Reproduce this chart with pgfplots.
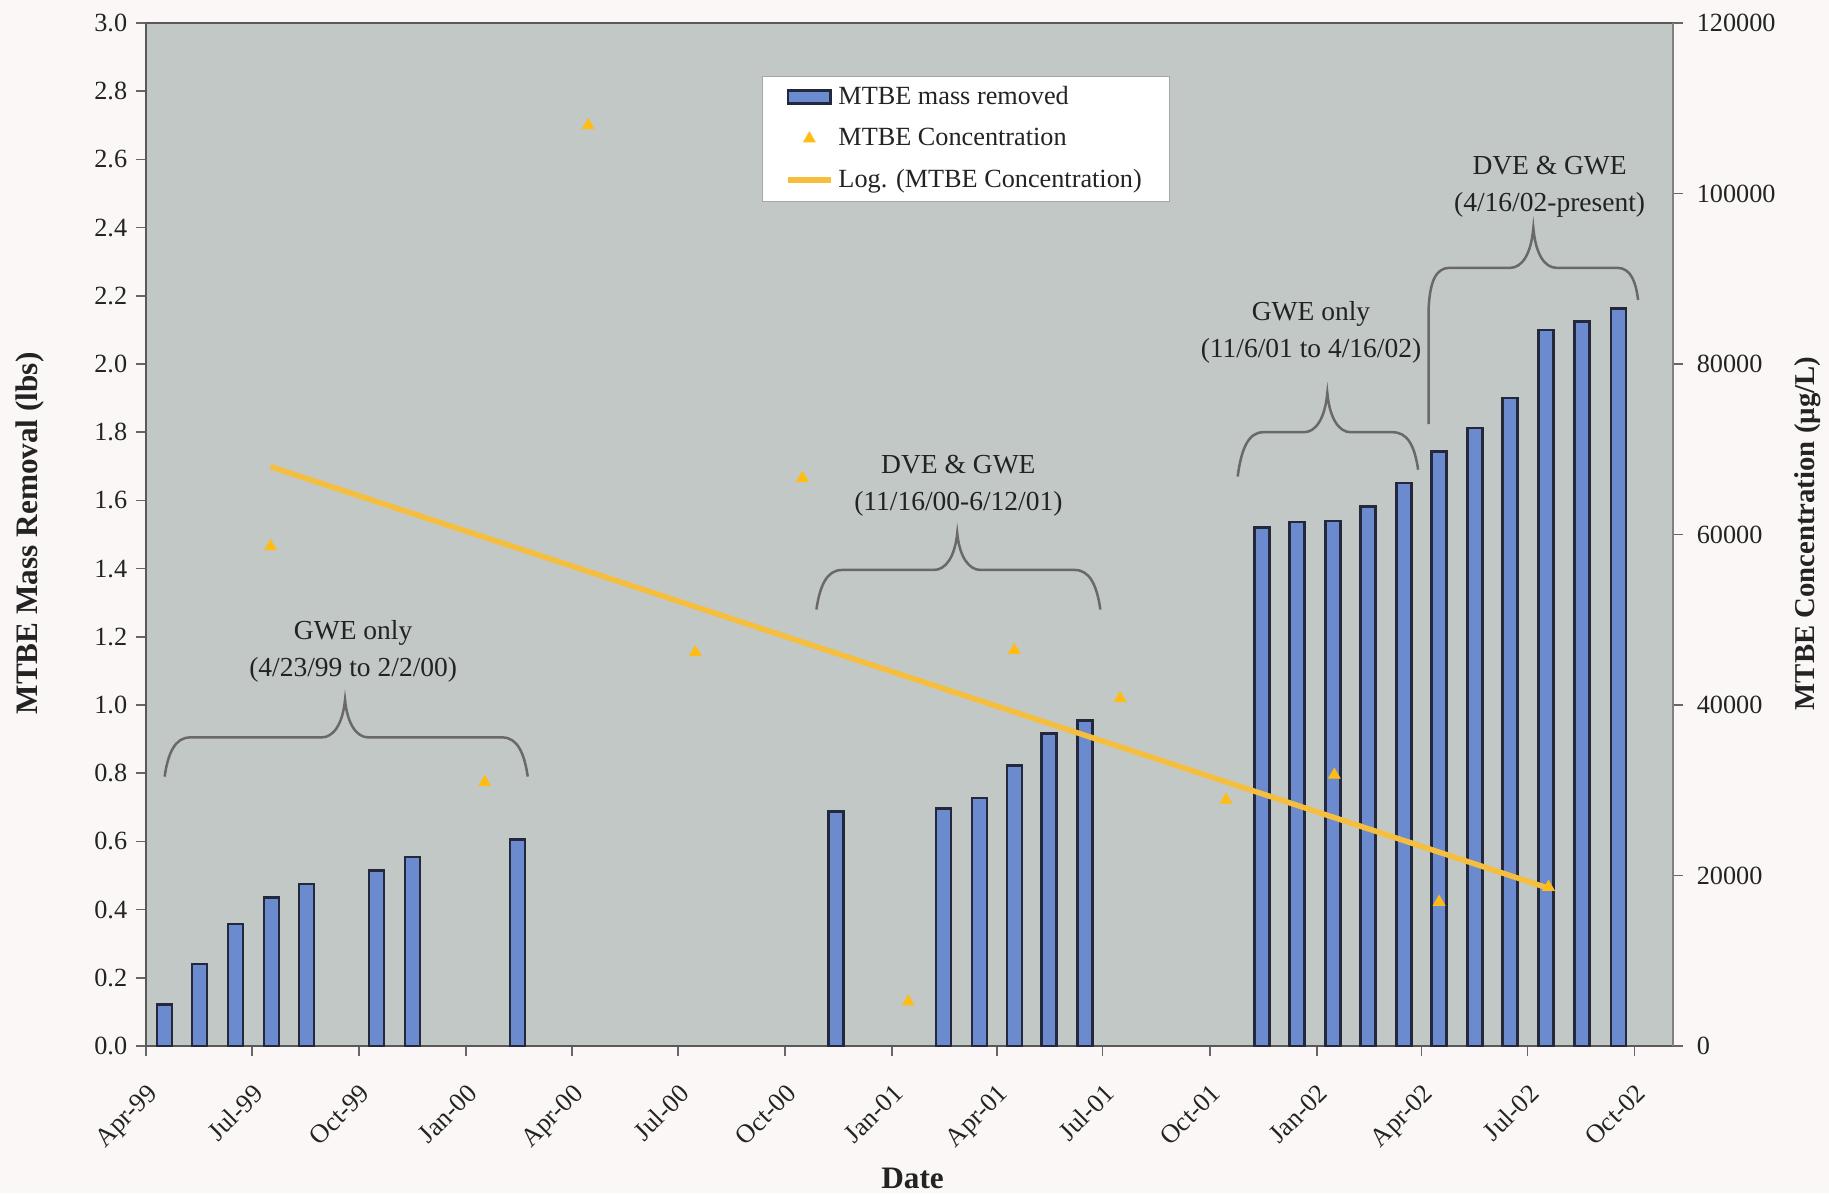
\documentclass[border=0pt]{standalone}
\usepackage{pgfplots}
\pgfplotsset{compat=1.18}
\usepackage{fontspec}
\setmainfont{Liberation Serif}
\definecolor{plotbg}{RGB}{194,200,198}
\definecolor{pagebg}{RGB}{251,247,247}
\definecolor{barfill}{RGB}{108,138,206}
\definecolor{baredge}{RGB}{35,40,60}
\definecolor{tri}{RGB}{255,188,20}
\definecolor{trend}{RGB}{245,190,60}
\definecolor{bracegray}{RGB}{105,105,105}
\definecolor{txt}{RGB}{35,35,35}
\begin{document}
\begin{tikzpicture}
\fill[pagebg] (-58.4pt,-58.8pt) rectangle (673.2pt,418.4pt);
\useasboundingbox (-58.4pt,-58.8pt) rectangle (673.2pt,418.4pt);
\begin{axis}[
  at={(0,0)}, anchor=south west,
  scale only axis, width=610.8pt, height=409.2pt,
  xmin=0, xmax=1312, ymin=0, ymax=3,
  axis background/.style={fill=plotbg},
  axis line style={draw=black!65, line width=0.8pt},
  xtick pos=left, ytick pos=left,
  tick align=outside, major tick length=4pt,
  tick style={draw=black!60, line width=0.6pt},
  xtick={0,91,183,275,366,457,549,641,731,822,914,1006,1096,1187,1279},
  xticklabels={Apr-99,Jul-99,Oct-99,Jan-00,Apr-00,Jul-00,Oct-00,Jan-01,Apr-01,Jul-01,Oct-01,Jan-02,Apr-02,Jul-02,Oct-02},
  xticklabel style={rotate=45, anchor=north east, inner sep=1pt, font=\fontsize{10.5}{12}\selectfont, text=txt},
  xticklabel shift=9pt,
  ytick={0,0.2,0.4,0.6,0.8,1.0,1.2,1.4,1.6,1.8,2.0,2.2,2.4,2.6,2.8,3.0},
  yticklabel style={font=\fontsize{10.5}{12}\selectfont, text=txt,
    /pgf/number format/fixed, /pgf/number format/fixed zerofill, /pgf/number format/precision=1, /pgf/number format/assume math mode=true},
  ylabel={\textbf{MTBE Mass Removal (lbs)}},
  ylabel style={at={(axis description cs:-0.076,0.501)}, anchor=center, font=\fontsize{12.5}{14}\selectfont, text=txt},
  xlabel={\textbf{Date}},
  xlabel style={at={(axis description cs:0.502,-0.129)}, anchor=center, font=\fontsize{12.5}{14}\selectfont, text=txt},
]
\addplot[ybar, bar width=6pt, fill=barfill, draw=baredge, line width=1pt] coordinates {
(16,0.122) (46,0.240) (77,0.358) (108,0.436) (138,0.475) (198,0.515) (229,0.554) (319,0.606)
(593,0.687) (685,0.697) (716,0.728) (746,0.822) (776,0.917) (807,0.954)
(959,1.521) (989,1.536) (1020,1.539) (1050,1.582) (1081,1.651) (1111,1.743) (1142,1.813) (1172,1.901) (1203,2.100) (1234,2.125) (1265,2.163)
};
% braces
\draw[bracegray, line width=1pt] (16,0.79) .. controls (19,0.86) and (25,0.905) .. (38,0.905) -- (151,0.905) .. controls (161,0.905) and (169,0.944) .. (171,1.015) .. controls (173,0.944) and (181,0.905) .. (191,0.905) -- (306,0.905) .. controls (319,0.905) and (325,0.86) .. (328,0.79);
\draw[bracegray, line width=1pt] (576,1.28) .. controls (579,1.35) and (585,1.396) .. (598,1.396) -- (677,1.396) .. controls (687,1.396) and (695,1.434) .. (697,1.504) .. controls (699,1.434) and (707,1.396) .. (717,1.396) -- (798,1.396) .. controls (811,1.396) and (817,1.35) .. (820,1.28);
\draw[bracegray, line width=1pt] (938,1.67) .. controls (941,1.75) and (947,1.80) .. (960,1.80) -- (995,1.80) .. controls (1005,1.80) and (1013,1.84) .. (1015,1.915) .. controls (1017,1.84) and (1025,1.80) .. (1035,1.80) -- (1071,1.80) .. controls (1084,1.80) and (1090,1.76) .. (1093,1.69);
\draw[bracegray, line width=1pt] (1102,1.824) -- (1102,2.16) .. controls (1103,2.24) and (1108,2.282) .. (1120,2.282) -- (1172,2.282) .. controls (1182,2.282) and (1190,2.32) .. (1192,2.399) .. controls (1194,2.32) and (1202,2.282) .. (1212,2.282) -- (1264,2.282) .. controls (1276,2.282) and (1280,2.24) .. (1282,2.188);
\node[align=center, text=txt, font=\fontsize{11}{14.7}\selectfont] at (178,1.157) {GWE only\\(4/23/99 to 2/2/00)};
\node[align=center, text=txt, font=\fontsize{11}{14.7}\selectfont] at (698,1.643) {DVE \& GWE\\(11/16/00-6/12/01)};
\node[align=center, text=txt, font=\fontsize{11}{14.7}\selectfont] at (1001,2.092) {GWE only\\(11/6/01 to 4/16/02)};
\node[align=center, text=txt, font=\fontsize{11}{14.7}\selectfont] at (1206,2.52) {DVE \& GWE\\(4/16/02-present)};
\end{axis}
\begin{axis}[
  at={(0,0)}, anchor=south west,
  scale only axis, width=610.8pt, height=409.2pt,
  xmin=0, xmax=1312, ymin=0, ymax=120000,
  axis x line=none, axis y line*=right,
  axis line style={draw=black!50, line width=0.6pt},
  tick align=outside, major tick length=4pt,
  tick style={draw=black!60, line width=0.6pt},
  ytick={0,20000,40000,60000,80000,100000,120000},
  scaled y ticks=false,
  yticklabel style={font=\fontsize{10.5}{12}\selectfont, text=txt, xshift=2pt,
    /pgf/number format/fixed, /pgf/number format/1000 sep={}, /pgf/number format/assume math mode=true},
  ylabel={\textbf{MTBE Concentration (µg/L)}},
  ylabel style={at={(axis description cs:1.088,0.501)}, anchor=center, font=\fontsize{11.5}{14}\selectfont, text=txt},
  legend style={at={(axis description cs:0.537,0.887)}, anchor=center, draw=black!35, fill=white,
    font=\fontsize{10.5}{12}\selectfont, text=txt, inner xsep=9pt, inner ysep=2pt, row sep=4pt,
    legend cell align=left},
]
\addlegendimage{legend image code/.code={\draw[fill=barfill, draw=baredge, line width=1.1pt] (0pt,-2.6pt) rectangle (17pt,2.6pt);}}
\addlegendentry{MTBE mass removed}
\addplot[only marks, mark=triangle*, mark size=2.6pt, mark options={fill=tri, draw=tri}] coordinates {
(107,58600) (380,108000) (291,30960) (472,46170) (564,66620) (655,5200) (746,46430) (837,40790) (928,28860) (1021,31790) (1111,16890) (1205,18650)
};
\addlegendentry{MTBE Concentration}
\addplot[trend, line width=2.2pt] coordinates {(107,67960) (1204.5,18530)};
\addlegendentry{Log. (MTBE Concentration)}
\end{axis}
\end{tikzpicture}
\end{document}
